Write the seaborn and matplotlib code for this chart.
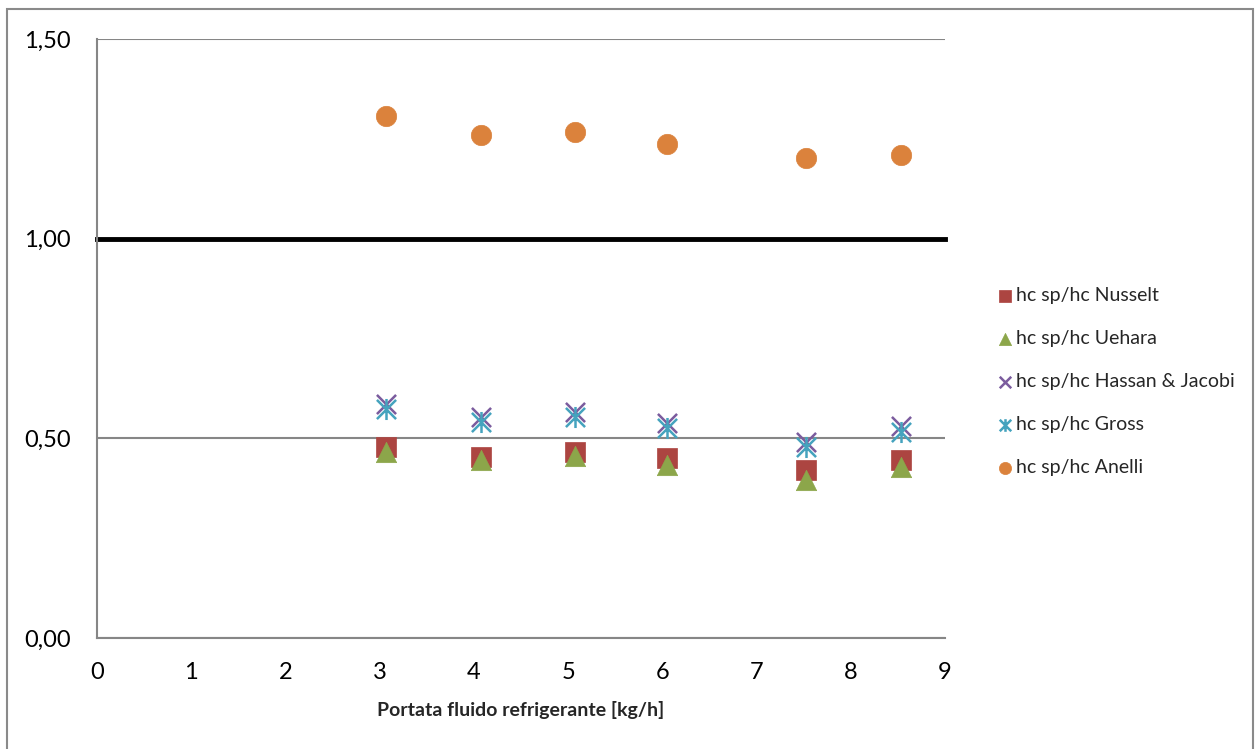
import numpy as np
import pandas as pd
import matplotlib
matplotlib.use("Agg")
import matplotlib.pyplot as plt
from matplotlib.path import Path
from matplotlib.patches import Rectangle
import seaborn as sns

# ---- data ----
portata = [3.07, 4.08, 5.07, 6.05, 7.52, 8.53]
nusselt = [0.478, 0.453, 0.466, 0.451, 0.421, 0.446]
uehara = [0.466, 0.446, 0.456, 0.433, 0.396, 0.428]
hassan = [0.586, 0.553, 0.566, 0.538, 0.491, 0.531]
gross = [0.573, 0.541, 0.553, 0.526, 0.478, 0.516]
anelli = [1.307, 1.260, 1.267, 1.237, 1.202, 1.210]
riferimento = 1.0

series_names = ["hc sp/hc Nusselt", "hc sp/hc Uehara", "hc sp/hc Hassan & Jacobi",
                "hc sp/hc Gross", "hc sp/hc Anelli"]
x_ticks = [0, 1, 2, 3, 4, 5, 6, 7, 8, 9]
y_ticks = [0.0, 0.5, 1.0, 1.5]
y_tick_labels = ["0,00", "0,50", "1,00", "1,50"]
x_label = "Portata fluido refrigerante [kg/h]"

sns.set_theme(style="white")
plt.rcParams["font.family"] = ["Lato", "DejaVu Sans"]

fig = plt.figure(figsize=(12.55, 7.49), dpi=100)
ax = fig.add_axes([97 / 1255, 1 - 638 / 749, (945 - 97) / 1255, (638 - 39) / 749])

star = Path([(-1, -1), (1, 1), (-1, 1), (1, -1), (0, -1.1), (0, 1.1)],
            [Path.MOVETO, Path.LINETO, Path.MOVETO, Path.LINETO, Path.MOVETO, Path.LINETO])

specs = [
    (nusselt, "s", "#AC4541", 205, 0.5),
    (uehara, "^", "#8CA64A", 215, 0.5),
    (hassan, "x", "#7B5C9E", 190, 1.8),
    (gross, star, "#45A3BE", 230, 1.8),
    (anelli, "o", "#DB823C", 215, 0.5),
]

grey = "#868686"
ax.set_xlim(0, 9)
ax.set_ylim(0, 1.5)
ax.set_yticks(y_ticks)
ax.set_yticklabels(y_tick_labels)
ax.set_xticks(x_ticks)
ax.set_xticklabels([str(t) for t in x_ticks])
ax.yaxis.grid(True, color=grey, linewidth=1.5)
ax.xaxis.grid(False)
ax.set_axisbelow(True)

ax.axhline(riferimento, color="black", linewidth=3.5, solid_capstyle="projecting",
           clip_on=False, zorder=1.5)

for (vals, mk, col, s, lw), name in zip(specs, series_names):
    df = pd.DataFrame({"x": portata, "y": vals})
    sns.scatterplot(data=df, x="x", y="y", marker=mk, color=col, s=s,
                    edgecolor=col, linewidth=lw, ax=ax, label=name, zorder=3,
                    clip_on=False)

for side in ["top", "right"]:
    ax.spines[side].set_visible(False)
for side in ["left", "bottom"]:
    ax.spines[side].set_color(grey)
    ax.spines[side].set_linewidth(1.5)

ax.tick_params(axis="both", length=0, labelsize=17, colors="black")
ax.tick_params(axis="y", pad=19)
ax.tick_params(axis="x", pad=17)
ax.set_ylabel("")
ax.set_xlabel(x_label, fontsize=14, fontweight="bold", labelpad=13)

leg = ax.legend(loc="center left", bbox_to_anchor=(1.053, 0.428), frameon=False,
                fontsize=14, markerscale=0.6, handlelength=0.6, handletextpad=0.25,
                labelspacing=1.33, borderpad=0)

fig.patches.append(Rectangle((7 / 1255, -0.01), (1253 - 7) / 1255, 1 - 9 / 749 + 0.01,
                             transform=fig.transFigure, fill=False,
                             edgecolor="#8a8a8a", linewidth=1.5))

fig.savefig("out.png", dpi=100, facecolor="white")
